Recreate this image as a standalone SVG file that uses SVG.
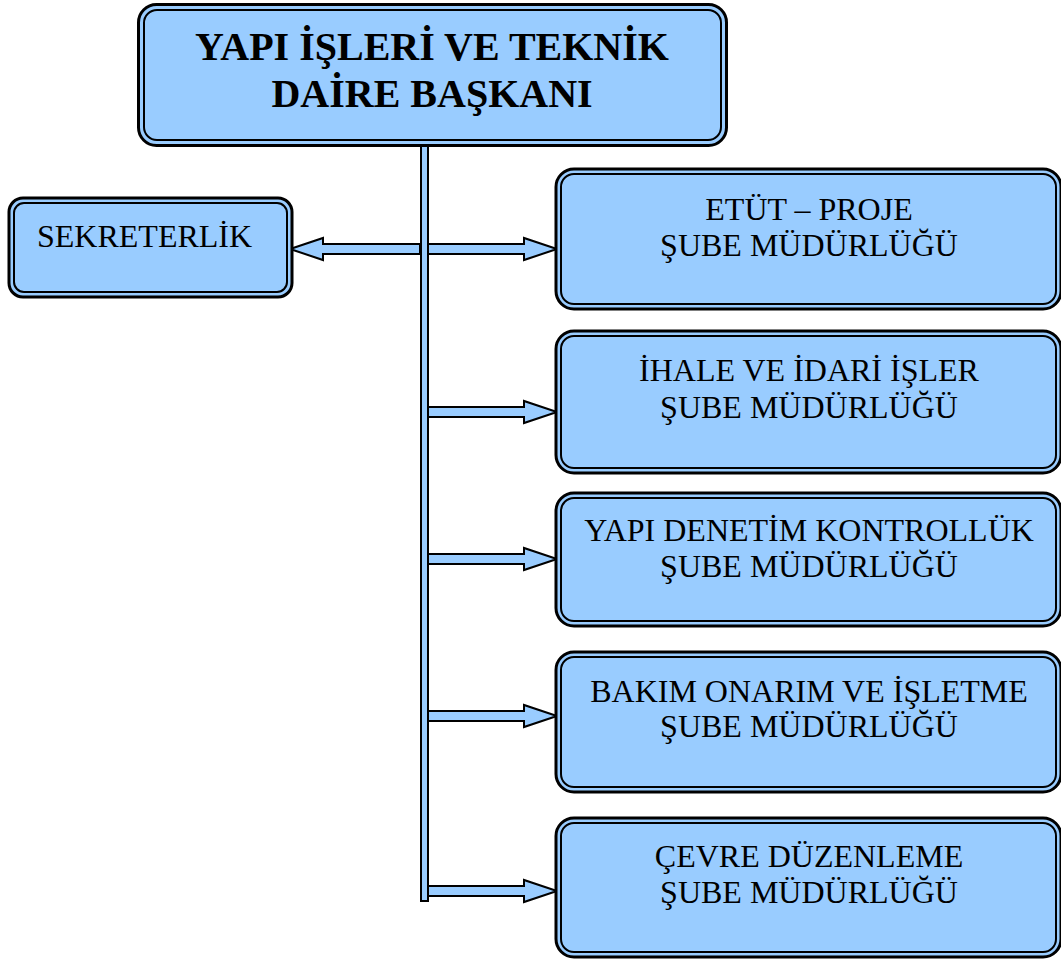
<svg xmlns="http://www.w3.org/2000/svg" width="1061" height="959" viewBox="0 0 1061 959">
<style>
.o{fill:#99CCFF;stroke:#000;stroke-width:3}
.i{fill:#99CCFF;stroke:#000;stroke-width:2}
.t{font-family:"Liberation Serif","Times New Roman",serif;font-size:32px;fill:#000;text-anchor:middle}
.h{font-family:"Liberation Serif","Times New Roman",serif;font-size:40px;font-weight:bold;fill:#000;text-anchor:middle}
.c{fill:#99CCFF;stroke:#000;stroke-width:2;stroke-linejoin:miter}
</style>
<rect width="1061" height="959" fill="#fff"/>
<g id="connectors">
<rect class="c" x="421" y="145" width="7" height="756"/>
<polygon class="c" points="420,244 323,244 323,238 290,249 323,260 323,254 420,254"/>
<polygon class="c" points="428,244 524,244 524,238 557,249 524,260 524,254 428,254"/>
<polygon class="c" points="428,407 524,407 524,401 557,412 524,423 524,417 428,417"/>
<polygon class="c" points="428,554 524,554 524,548 557,559 524,570 524,564 428,564"/>
<polygon class="c" points="428,711 524,711 524,705 557,716 524,727 524,721 428,721"/>
<polygon class="c" points="428,886 524,886 524,880 557,891 524,902 524,896 428,896"/>
</g>
<g id="baskan">
<rect class="o" x="138.5" y="4.5" width="588" height="141" rx="18"/>
<rect class="i" x="144" y="10" width="577" height="130" rx="13"/>
<text class="h" x="432" y="60">YAPI İŞLERİ VE TEKNİK</text>
<text class="h" x="432" y="107">DAİRE BAŞKANI</text>
</g>
<g id="sekreterlik">
<rect class="o" x="9" y="198" width="283" height="99" rx="14"/>
<rect class="i" x="14" y="203" width="273" height="89" rx="10"/>
<text class="t" x="37" y="247" style="text-anchor:start">SEKRETERLİK</text>
</g>
<g id="etut">
<rect class="o" x="556" y="169" width="505" height="140" rx="18"/>
<rect class="i" x="561" y="174" width="495" height="130" rx="13"/>
<text class="t" x="809" y="220">ETÜT – PROJE</text>
<text class="t" x="809" y="256">ŞUBE MÜDÜRLÜĞÜ</text>
</g>
<g id="ihale">
<rect class="o" x="556" y="331" width="505" height="142" rx="18"/>
<rect class="i" x="561" y="336" width="495" height="132" rx="13"/>
<text class="t" x="809" y="381">İHALE VE İDARİ İŞLER</text>
<text class="t" x="809" y="418">ŞUBE MÜDÜRLÜĞÜ</text>
</g>
<g id="denetim">
<rect class="o" x="556" y="493" width="505" height="133" rx="18"/>
<rect class="i" x="561" y="498" width="495" height="123" rx="13"/>
<text class="t" x="809" y="541">YAPI DENETİM KONTROLLÜK</text>
<text class="t" x="809" y="577">ŞUBE MÜDÜRLÜĞÜ</text>
</g>
<g id="bakim">
<rect class="o" x="556" y="652" width="505" height="140" rx="18"/>
<rect class="i" x="561" y="657" width="495" height="130" rx="13"/>
<text class="t" x="809" y="702">BAKIM ONARIM VE İŞLETME</text>
<text class="t" x="809" y="737">ŞUBE MÜDÜRLÜĞÜ</text>
</g>
<g id="cevre">
<rect class="o" x="556" y="818" width="505" height="139" rx="18"/>
<rect class="i" x="561" y="823" width="495" height="129" rx="13"/>
<text class="t" x="809" y="867">ÇEVRE DÜZENLEME</text>
<text class="t" x="809" y="903">ŞUBE MÜDÜRLÜĞÜ</text>
</g>
</svg>
